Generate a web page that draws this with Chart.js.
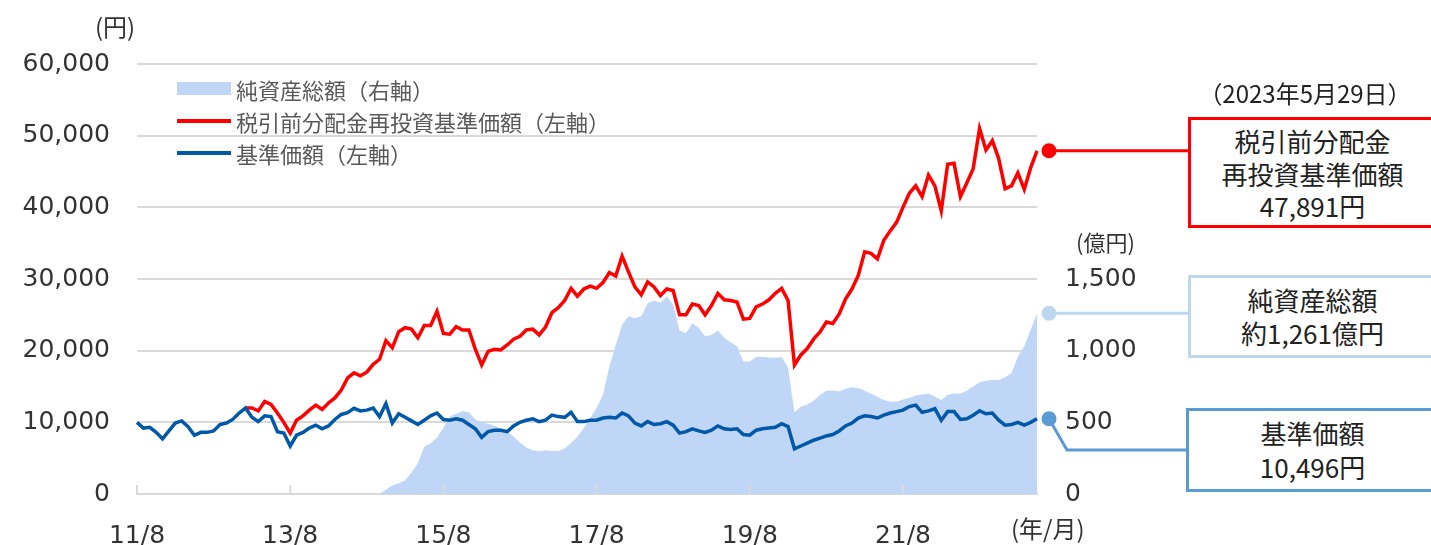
<!DOCTYPE html>
<html lang="ja">
<head>
<meta charset="utf-8">
<script src="https://cdn.jsdelivr.net/npm/chart.js@4.4.1/dist/chart.umd.min.js"></script>
<style>
  html, body { margin: 0; padding: 0; background: #fff; }
  #wrap { position: relative; width: 1431px; height: 545px; overflow: hidden; font-family: "Noto Sans CJK JP", "Noto Sans", sans-serif; }
  #chart { position: absolute; left: 0; top: 0; }
  .lbl { position: absolute; white-space: nowrap; color: #333; }
  .leg { position: absolute; left: 236px; font-size: 22px; line-height: 22px; color: #595959; white-space: nowrap; }
  .sw { position: absolute; left: 177px; width: 54px; }
  .box { position: absolute; left: 1188px; width: 260px; box-sizing: border-box; border: 3px solid; background: #fff; }
  .btxt { position: absolute; left: 1188px; width: 249px; text-align: center; font-size: 26px; color: #222; white-space: nowrap; }
</style>
</head>
<body>
<div id="wrap">
  <canvas id="chart" width="1431" height="545"></canvas>

  <div class="lbl" style="left:95px;top:12px;font-size:24px;line-height:28px;">(円)</div>
  <div class="lbl" style="left:1076px;top:228px;font-size:22px;line-height:26px;">(億円)</div>
  <div class="lbl" style="left:1011px;top:514px;font-size:24px;line-height:28px;">(年/月)</div>

  <div class="sw" style="top:82px;height:13px;background:#bfd6f6;"></div>
  <div class="leg" style="top:78px;">純資産総額（右軸）</div>
  <div class="sw" style="top:119px;height:4px;background:#ff0000;"></div>
  <div class="leg" style="top:110px;">税引前分配金再投資基準価額（左軸）</div>
  <div class="sw" style="top:151px;height:4px;background:#0058a8;"></div>
  <div class="leg" style="top:142px;">基準価額（左軸）</div>

  <div class="lbl" style="left:1188px;width:234px;text-align:center;top:79px;font-size:24px;line-height:28px;color:#222;">（2023年5月29日）</div>

  <div class="box" style="top:117px;height:111px;border-color:#ff0000;"></div>
  <div class="btxt" style="top:125px;line-height:32.5px;">税引前分配金<br>再投資基準価額<br>47,891円</div>

  <div class="box" style="top:275px;height:83px;border-color:#bdd7ee;"></div>
  <div class="btxt" style="top:283px;line-height:33px;">純資産総額<br>約1,261億円</div>

  <div class="box" style="top:408px;height:84px;left:1186px;border-color:#5b9bd5;"></div>
  <div class="btxt" style="top:416px;line-height:33.5px;">基準価額<br>10,496円</div>
</div>

<script>
// 月次データ（2011/8 〜 2023/5）
const startYear = 2011, startMonth = 8, endYear = 2023, endMonth = 5;

const tickMonths = ['2011/8', '2013/8', '2015/8', '2017/8', '2019/8', '2021/8'];
const tickLabels = ['11/8', '13/8', '15/8', '17/8', '19/8', '21/8'];

// 基準価額（円）
const navValues = [
  10000, 9200, 9300, 8600, 7700, 8800, 9900, 10200, 9400, 8200,
  8600, 8600, 8800, 9700, 9900, 10400, 11300, 12000, 10700, 10100,
  10900, 10800, 8700, 8500, 6700, 8200, 8600, 9200, 9600, 9100,
  9500, 10400, 11100, 11350, 11960, 11600, 11700, 12000, 10800, 12600,
  9900, 11200, 10700, 10200, 9700, 10300, 10900, 11300, 10400, 10300,
  10500, 10300, 9700, 9100, 7900, 8700, 8900, 8900, 8700, 9500,
  10000, 10300, 10500, 10100, 10300, 11000, 10800, 10700, 11400, 10100,
  10100, 10300, 10300, 10600, 10700, 10600, 11300, 10900, 9900, 9500,
  10100, 9700, 9800, 10100, 9600, 8500, 8700, 9100, 8800, 8600,
  8900, 9500, 9100, 9000, 9100, 8300, 8200, 8900, 9100, 9200,
  9300, 9800, 9400, 6300, 6700, 7100, 7500, 7800, 8100, 8300,
  8800, 9500, 9900, 10600, 10900, 10800, 10600, 11000, 11300, 11500,
  11700, 12200, 12400, 11400, 11600, 11900, 10300, 11500, 11500, 10400,
  10500, 11000, 11600, 11200, 11300, 10300, 9600, 9700, 10000, 9600,
  10000, 10496
];

// 税引前分配金再投資基準価額（円）
const reinvestValues = [
  null, null, null, null, null, null, null, null, null, null,
  null, null, null, null, null, null, null, 12000, 12000, 11600,
  12900, 12500, 11300, 10000, 8500, 10300, 10900, 11700, 12400, 11800,
  12700, 13400, 14500, 16200, 16900, 16500, 17000, 18100, 18800, 21400,
  20400, 22650, 23200, 23000, 21800, 23500, 23500, 25500, 22400, 22300,
  23350, 22880, 22880, 20200, 18000, 19900, 20200, 20100, 20800, 21600,
  22000, 22900, 23000, 22200, 23300, 25300, 26000, 27000, 28700, 27600,
  28600, 29000, 28700, 29500, 30900, 30400, 33200, 31000, 28900, 27800,
  29600, 28900, 27700, 28600, 28400, 25000, 25000, 26500, 26300, 25000,
  26300, 28000, 27100, 27000, 26800, 24400, 24500, 26100, 26500, 27100,
  28000, 28700, 27000, 18000, 19400, 20300, 21600, 22600, 24000, 23800,
  25100, 27200, 28600, 30500, 33800, 33580, 32800, 35400, 36700, 37900,
  40000, 41960, 43000, 41500, 44500, 43000, 39500, 46000, 46140, 41500,
  43400, 45400, 51000, 48000, 49300, 46800, 42600, 43000, 44800, 42500,
  45500, 47891
];

// 純資産総額（億円）
const assetValues = [
  null, null, null, null, null, null, null, null, null, null,
  null, null, null, null, null, null, null, null, null, null,
  null, null, null, null, null, null, null, null, null, null,
  null, null, null, null, null, null, null, null, 0, 30,
  60, 75, 95, 150, 214, 330, 354, 395, 460, 540,
  560, 578, 570, 520, 500, 490, 478, 455, 438, 400,
  360, 325, 305, 298, 305, 300, 300, 318, 355, 400,
  460, 530, 600, 690, 890, 1040, 1180, 1240, 1226, 1240,
  1330, 1350, 1335, 1380, 1320, 1140, 1121, 1191, 1160, 1100,
  1110, 1140, 1090, 1058, 1030, 925, 925, 955, 958, 952,
  950, 955, 880, 570, 609, 625, 650, 690, 720, 722,
  715, 735, 745, 740, 720, 700, 678, 655, 644, 644,
  660, 670, 688, 695, 700, 680, 656, 690, 702, 702,
  720, 750, 780, 790, 795, 795, 815, 842, 958, 1030,
  1144, 1261
];

const months = [];
for (let y = startYear, m = startMonth; y < endYear || (y === endYear && m <= endMonth); m++) {
  if (m > 12) { m = 1; y++; }
  months.push(y + '/' + m);
}

const numFont = '"DejaVu Sans", Verdana, sans-serif';

// x軸の目盛り線（内向き）と右端の引き出し線
const markerPlugin = {
  id: 'markers',
  afterDatasetsDraw(chart) {
    const { ctx, chartArea, scales } = chart;
    ctx.save();
    ctx.strokeStyle = '#d9d9d9';
    ctx.lineWidth = 2;
    tickMonths.forEach(t => {
      const i = months.indexOf(t);
      if (i < 0) return;
      const px = scales.x.getPixelForValue(i);
      ctx.beginPath();
      ctx.moveTo(px, chartArea.bottom);
      ctx.lineTo(px, chartArea.bottom - 9);
      ctx.stroke();
    });
    ctx.restore();
  },
  afterDraw(chart) {
    const { ctx, chartArea, scales } = chart;
    const last = months.length - 1;
    const dx = chartArea.right + 12;

    const yRed = scales.y.getPixelForValue(reinvestValues[last]);
    const yAsset = scales.y2.getPixelForValue(assetValues[last]);
    const yNav = scales.y.getPixelForValue(navValues[last]);

    ctx.save();
    ctx.lineWidth = 3;

    ctx.strokeStyle = '#ff0000';
    ctx.beginPath(); ctx.moveTo(dx, yRed); ctx.lineTo(1189, yRed); ctx.stroke();

    ctx.strokeStyle = '#bdd7ee';
    ctx.beginPath(); ctx.moveTo(dx, yAsset); ctx.lineTo(1189, yAsset); ctx.stroke();

    ctx.strokeStyle = '#5b9bd5';
    ctx.beginPath(); ctx.moveTo(dx, yNav); ctx.lineTo(dx + 18, 450); ctx.lineTo(1187, 450); ctx.stroke();

    [[yRed, '#ff0000'], [yAsset, '#bdd7ee'], [yNav, '#5b9bd5']].forEach(([py, c]) => {
      ctx.fillStyle = c;
      ctx.beginPath(); ctx.arc(dx, py, 7.5, 0, Math.PI * 2); ctx.fill();
    });
    ctx.restore();
  }
};

new Chart(document.getElementById('chart'), {
  type: 'line',
  data: {
    labels: months,
    datasets: [
      {
        label: '基準価額（左軸）',
        data: navValues,
        yAxisID: 'y',
        borderColor: '#0058a8',
        borderWidth: 3.5,
        pointRadius: 0,
        tension: 0,
        order: 0
      },
      {
        label: '税引前分配金再投資基準価額（左軸）',
        data: reinvestValues,
        yAxisID: 'y',
        borderColor: '#ff0000',
        borderWidth: 3.5,
        pointRadius: 0,
        tension: 0,
        order: 1
      },
      {
        label: '純資産総額（右軸）',
        data: assetValues,
        yAxisID: 'y2',
        borderWidth: 0,
        borderColor: 'rgba(0,0,0,0)',
        backgroundColor: '#bfd6f6',
        fill: 'origin',
        pointRadius: 0,
        tension: 0,
        order: 2
      }
    ]
  },
  options: {
    responsive: false,
    animation: false,
    layout: { padding: { top: 64, left: 0, right: 0, bottom: 0 } },
    plugins: { legend: { display: false }, tooltip: { enabled: false } },
    scales: {
      x: {
        type: 'category',
        offset: false,
        grid: { display: false },
        border: { display: true, color: '#d9d9d9', width: 2 },
        ticks: {
          autoSkip: false,
          maxRotation: 0,
          minRotation: 0,
          padding: 19,
          color: '#333',
          font: { family: numFont, size: 25 },
          callback: (v, i) => {
            const k = tickMonths.indexOf(months[i]);
            return k < 0 ? '' : tickLabels[k];
          }
        },
        afterFit: s => { s.height = 51; }
      },
      y: {
        position: 'left',
        min: 0,
        max: 60000,
        grid: { color: '#d9d9d9', lineWidth: 2, drawTicks: false },
        border: { display: false },
        ticks: {
          stepSize: 10000,
          padding: 27,
          color: '#333',
          font: { family: numFont, size: 25 },
          callback: v => v.toLocaleString('en-US')
        },
        afterFit: s => { s.width = 137; }
      },
      y2: {
        position: 'right',
        min: 0,
        max: 3000,
        grid: { display: false, drawTicks: false },
        border: { display: false },
        ticks: {
          stepSize: 500,
          padding: 28,
          color: '#333',
          font: { family: numFont, size: 25 },
          callback: v => (v > 1500 ? '' : v.toLocaleString('en-US'))
        },
        afterFit: s => { s.width = 394; }
      }
    }
  },
  plugins: [markerPlugin]
});
</script>
</body>
</html>
